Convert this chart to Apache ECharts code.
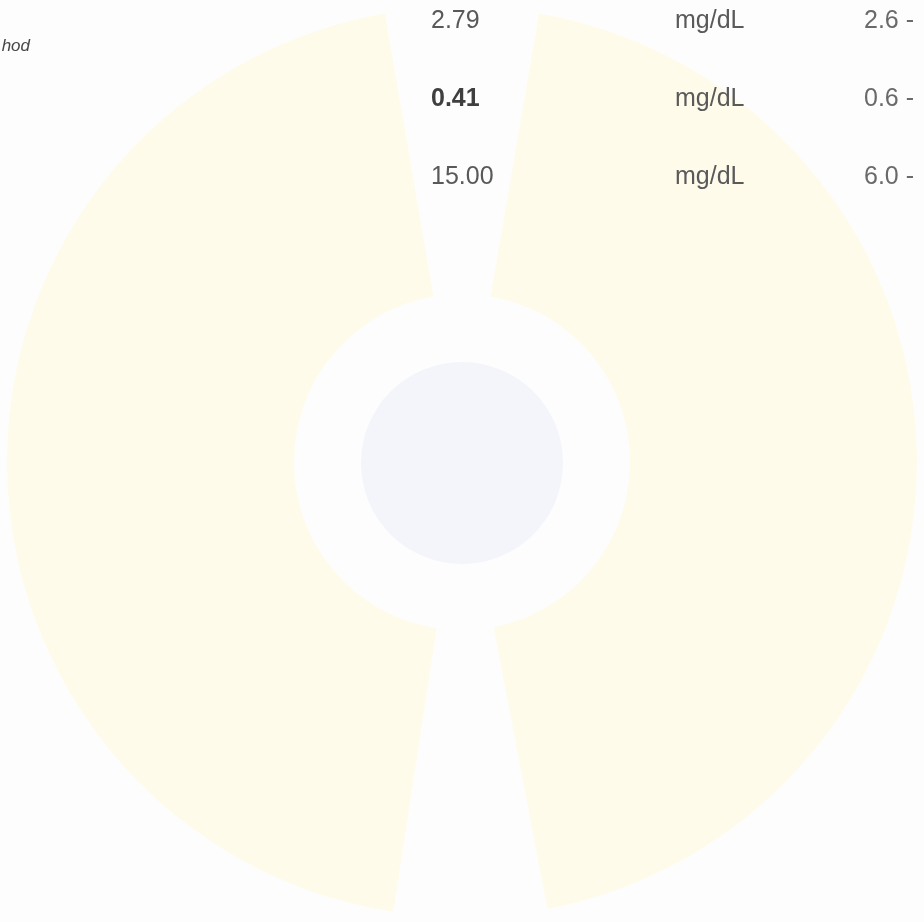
<!DOCTYPE html>
<html>
<head>
<meta charset="utf-8">
<script src="https://cdn.jsdelivr.net/npm/echarts@6/dist/echarts.min.js"></script>
<style>
html,body{margin:0;padding:0;background:#fdfdfd;}
#c{width:924px;height:922px;}
</style>
</head>
<body>
<div id="c"></div>
<script>
// Data
var ringNames = ['Right', 'Left'];
var ringValues = [49.7, 50.3];
var coreNames = ['Core'];
var coreValues = [100];
var resultValues = ['2.79', '0.41', '15.00'];
var resultBold = [false, true, false];
var resultUnits = ['mg/dL', 'mg/dL', 'mg/dL'];
var resultRanges = ['2.6 -', '0.6 -', '6.0 -'];
var headerFragment = 'hod';

var chart = echarts.init(document.getElementById('c'), null, {renderer: 'canvas'});

var rowY = [21, 99, 177];
var FONT = '"Liberation Sans", Arial, sans-serif';
var graphics = [{
  type: 'text', x: 30, y: 46, z: 100,
  style: {text: headerFragment, font: 'italic 17px ' + FONT,
    fill: '#474747', align: 'right', verticalAlign: 'middle'}
}];
resultValues.forEach(function (v, i) {
  graphics.push({type: 'text', x: 431, y: rowY[i], z: 100, style: {text: v,
    font: (resultBold[i] ? 'bold ' : '') + '25px ' + FONT,
    fill: resultBold[i] ? '#3f3f3f' : '#595959', align: 'left', verticalAlign: 'middle'}});
  graphics.push({type: 'text', x: 675, y: rowY[i], z: 100, style: {text: resultUnits[i],
    font: '25px ' + FONT, fill: '#5a5a5a', align: 'left', verticalAlign: 'middle'}});
  graphics.push({type: 'text', x: 864, y: rowY[i], z: 100, style: {text: resultRanges[i],
    font: '25px ' + FONT, fill: '#6a6a6a', align: 'left', verticalAlign: 'middle'}});
});

chart.setOption({
  backgroundColor: '#fdfdfd',
  animation: false,
  series: [{
    type: 'pie',
    z: 1,
    center: [462, 462],
    radius: [168, 455],
    startAngle: 90,
    clockwise: true,
    padAngle: 19.5,
    silent: true,
    label: {show: false},
    labelLine: {show: false},
    emphasis: {disabled: true},
    itemStyle: {color: '#fffbeb', borderWidth: 0},
    data: ringNames.map(function (n, i) { return {name: n, value: ringValues[i]}; })
  }, {
    type: 'pie',
    z: 1,
    center: [462, 463],
    radius: [0, 101],
    silent: true,
    label: {show: false},
    labelLine: {show: false},
    emphasis: {disabled: true},
    itemStyle: {color: '#f3f5fb', borderWidth: 0},
    data: coreNames.map(function (n, i) { return {name: n, value: coreValues[i]}; })
  }],
  graphic: {elements: graphics}
});
</script>
</body>
</html>
